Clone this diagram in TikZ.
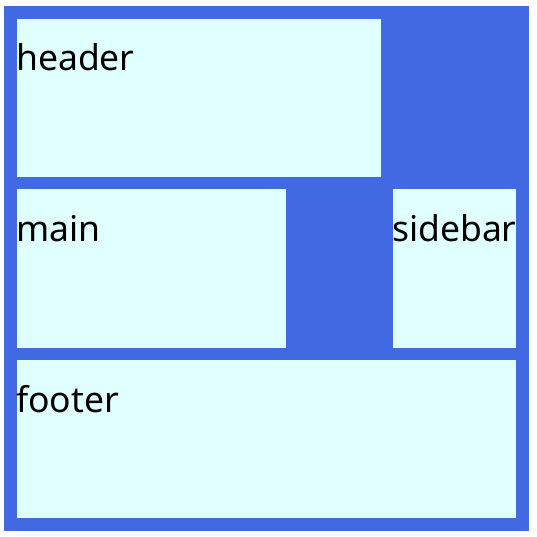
\documentclass[tikz,border=0pt]{standalone}
\usepackage{fontspec}
\setmainfont{Noto Sans}
\definecolor{royal}{HTML}{4169E1}
\definecolor{lcyan}{HTML}{E0FFFF}
\begin{document}
\begin{tikzpicture}[x=1pt,y=-1pt,
  cell/.style={fill=lcyan,draw=none},
  lbl/.style={anchor=base west,inner sep=0pt,font=\fontsize{35.5}{38}\selectfont}]
\useasboundingbox[fill=white] (0,0) rectangle (537,537);
\fill[royal] (4,6) rectangle (529,531);
\fill[cell] (17,19) rectangle (381,177);
\fill[cell] (17,189) rectangle (286,348);
\fill[cell] (393,189) rectangle (516,348);
\fill[cell] (17,360) rectangle (516,518);
\node[lbl] (header) at (16,71) {header};
\node[lbl] (main) at (16,241) {main};
\node[lbl] (sidebar) at (392,241) {sidebar};
\node[lbl] (footer) at (16,412) {footer};
\end{tikzpicture}
\end{document}
